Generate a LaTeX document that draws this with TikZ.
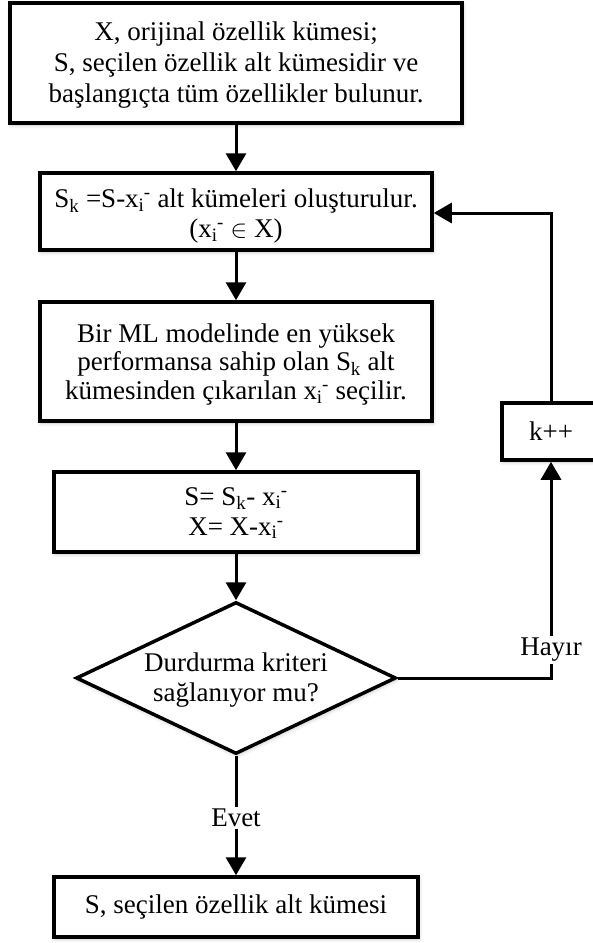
\documentclass[tikz,border=0pt]{standalone}
\usepackage{fontspec}
\setmainfont{Liberation Serif}
\usetikzlibrary{arrows.meta,shapes.geometric,shadows.blur}

% x_i^- as it appears in the flow chart
\newcommand{\xim}{x\textsubscript{i}\kern-0.02em\textsuperscript{-}}
\newcommand{\Sk}{S\textsubscript{k}}
% strut that sets the height of a first text line
\newcommand{\fl}[1]{\rule{0pt}{#1}}

\begin{document}
\begin{tikzpicture}[x=1pt,y=-1pt,
  txt/.style={font=\fontsize{27}{30}\selectfont, align=center},
  soft/.style={blur shadow={shadow xshift=1pt, shadow yshift=-2pt,
      shadow blur steps=6, shadow blur radius=4pt, shadow opacity=22,
      shadow scale=1}},
  stepbox/.style={txt, draw, line width=3.5pt, fill=white, inner sep=0pt, soft},
  decision/.style={txt, draw, diamond, line width=3.5pt, fill=white,
      inner sep=0pt, aspect=2.1, soft},
  lbl/.style={txt, fill=white, inner sep=2pt},
  flow/.style={line width=3pt, -{Triangle[length=18pt,width=20pt]}},
  plain/.style={line width=3pt}]

\useasboundingbox (0,0) rectangle (593,943);

% process steps
\node[stepbox, minimum width=452pt, minimum height=120pt,
      font=\fontsize{27}{31}\selectfont] (b1) at (236,63)
  {\fl{21.9pt}X, orijinal özellik kümesi;\\S, seçilen özellik alt kümesidir ve\\başlangıçta tüm özellikler bulunur.};
\node[stepbox, minimum width=392pt, minimum height=77pt] (b2) at (236,211.5)
  {\fl{28pt}\Sk{} =S-\xim{} alt kümeleri oluşturulur.\\(\xim{} $\in$ X)};
\node[stepbox, minimum width=392pt, minimum height=119pt,
      font=\fontsize{27}{28.5}\selectfont] (b3) at (236,361.5)
  {\fl{23.9pt}Bir ML modelinde en yüksek\\performansa sahip olan \Sk{}\ alt\\kümesinden çıkarılan \xim{} seçilir.};
\node[stepbox, minimum width=364pt, minimum height=80pt] (b4) at (236,512)
  {\fl{20pt}S= \Sk- \xim\\X= X-\xim};
\node[decision, minimum width=320pt, minimum height=152pt] (dm) at (236,678)
  {\fl{22.4pt}Durdurma kriteri\\sağlanıyor mu?};
\node[stepbox, minimum width=364pt, minimum height=60pt] (fin) at (236,907)
  {S, seçilen özellik alt kümesi};
\node[stepbox, minimum width=98pt, minimum height=57pt] (kpp) at (551,431.5)
  {k++};

% branch labels
\node[lbl] (hayir) at (551,650) {Hayır};
\node[lbl] (evet) at (236,818) {Evet};

% main flow
\draw[flow] (b1) -- (b2);
\draw[flow] (b2) -- (b3);
\draw[flow] (b3) -- (b4);
\draw[flow] (b4) -- (dm);
\draw[plain] (dm.south) -- (evet.north);
\draw[flow] (evet.south) -- (fin.north);

% loop back
\draw[plain] (dm.east) -| (hayir.south);
\draw[flow] (hayir.north) -- (kpp.south);
\draw[flow] (kpp.north) |- ([yshift=-1.5pt]b2.east);
\end{tikzpicture}
\end{document}
